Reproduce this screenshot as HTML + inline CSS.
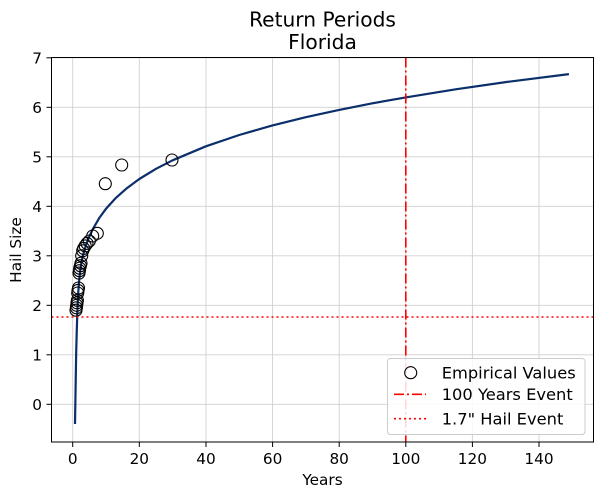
<!DOCTYPE html>
<html><head><meta charset="utf-8"><style>body{margin:0;background:#fff}svg{display:block}text{font-family:"DejaVu Sans","Liberation Sans",sans-serif;fill:#000}</style></head><body>
<svg width="603" height="497" viewBox="0 0 603 497">
<g stroke="#d0d0d0" stroke-width="0.9">
<line x1="72.7" y1="57.5" x2="72.7" y2="442"/><line x1="139.3" y1="57.5" x2="139.3" y2="442"/><line x1="206" y1="57.5" x2="206" y2="442"/><line x1="272.6" y1="57.5" x2="272.6" y2="442"/><line x1="339.2" y1="57.5" x2="339.2" y2="442"/><line x1="405.8" y1="57.5" x2="405.8" y2="442"/><line x1="472.4" y1="57.5" x2="472.4" y2="442"/><line x1="539" y1="57.5" x2="539" y2="442"/>
<line x1="51.5" y1="404.3" x2="593.5" y2="404.3"/><line x1="51.5" y1="354.8" x2="593.5" y2="354.8"/><line x1="51.5" y1="305.3" x2="593.5" y2="305.3"/><line x1="51.5" y1="255.8" x2="593.5" y2="255.8"/><line x1="51.5" y1="206.3" x2="593.5" y2="206.3"/><line x1="51.5" y1="156.8" x2="593.5" y2="156.8"/><line x1="51.5" y1="107.3" x2="593.5" y2="107.3"/><line x1="51.5" y1="57.8" x2="593.5" y2="57.8"/>
</g>
<polyline fill="none" stroke="#0b2f6b" stroke-width="2.2" stroke-linejoin="round" points="75,424 75.4,400 75.8,375 76.2,352 76.7,333 77.3,313 78,296 79,282 80.3,270 81.5,262 82.7,256.3 86,245 89.35,236.5 92.7,229.3 99.3,217.9 106,208.8 116,197.8 126,188.9 139.3,179 156,168.8 172.6,160.3 205.9,146.3 239.2,135 272.5,125.4 305.8,117.2 339.1,109.9 372.4,103.3 405.7,97.4 455.7,89.3 505.6,82.1 568.9,74.1"/>
<g fill="none" stroke="#000" stroke-width="1.1">
<circle cx="76" cy="310.2" r="6"/><circle cx="76.4" cy="307.8" r="6"/><circle cx="76.7" cy="305.3" r="6"/><circle cx="77" cy="302.8" r="6"/><circle cx="77.4" cy="300.4" r="6"/><circle cx="77.7" cy="293" r="6"/><circle cx="78" cy="290.4" r="6"/><circle cx="78.5" cy="288" r="6"/><circle cx="79" cy="273.1" r="6"/><circle cx="79.4" cy="270.7" r="6"/><circle cx="79.7" cy="268.2" r="6"/><circle cx="80.4" cy="265.7" r="6"/><circle cx="81" cy="263.2" r="6"/><circle cx="81.7" cy="255.8" r="6"/><circle cx="82.7" cy="250.8" r="6"/><circle cx="83.7" cy="248.4" r="6"/><circle cx="85.2" cy="245.9" r="6"/><circle cx="87" cy="243.4" r="6"/><circle cx="89.3" cy="241" r="6"/><circle cx="92.7" cy="236" r="6"/><circle cx="97.3" cy="233.3" r="6"/><circle cx="105.3" cy="183.7" r="6"/><circle cx="121.7" cy="165" r="6"/><circle cx="172" cy="160" r="6"/>
</g>
<line x1="405.8" y1="57.5" x2="405.8" y2="442" stroke="#f00" stroke-width="1.6" stroke-dasharray="10,3,2,3"/>
<line x1="51.5" y1="317" x2="593.5" y2="317" stroke="#f00" stroke-width="1.6" stroke-dasharray="2,3"/>
<rect x="51.5" y="57.5" width="542" height="384.5" fill="none" stroke="#000" stroke-width="1"/>
<g stroke="#000" stroke-width="1">
<line x1="72.7" y1="442" x2="72.7" y2="447"/><line x1="139.3" y1="442" x2="139.3" y2="447"/><line x1="206" y1="442" x2="206" y2="447"/><line x1="272.6" y1="442" x2="272.6" y2="447"/><line x1="339.2" y1="442" x2="339.2" y2="447"/><line x1="405.8" y1="442" x2="405.8" y2="447"/><line x1="472.4" y1="442" x2="472.4" y2="447"/><line x1="539" y1="442" x2="539" y2="447"/>
<line x1="46.5" y1="404.3" x2="51.5" y2="404.3"/><line x1="46.5" y1="354.8" x2="51.5" y2="354.8"/><line x1="46.5" y1="305.3" x2="51.5" y2="305.3"/><line x1="46.5" y1="255.8" x2="51.5" y2="255.8"/><line x1="46.5" y1="206.3" x2="51.5" y2="206.3"/><line x1="46.5" y1="156.8" x2="51.5" y2="156.8"/><line x1="46.5" y1="107.3" x2="51.5" y2="107.3"/><line x1="46.5" y1="57.8" x2="51.5" y2="57.8"/>
</g>
<g font-size="15.3" text-anchor="middle">
<text x="72.7" y="464">0</text><text x="139.3" y="464">20</text><text x="206" y="464">40</text><text x="272.6" y="464">60</text><text x="339.2" y="464">80</text><text x="405.8" y="464">100</text><text x="472.4" y="464">120</text><text x="539" y="464">140</text>
</g>
<g font-size="15.3" text-anchor="end">
<text x="42" y="409.8">0</text><text x="42" y="360.3">1</text><text x="42" y="310.8">2</text><text x="42" y="261.3">3</text><text x="42" y="211.8">4</text><text x="42" y="162.3">5</text><text x="42" y="112.8">6</text><text x="42" y="63.3">7</text>
</g>
<text x="322.5" y="485" font-size="15.3" text-anchor="middle">Years</text>
<text transform="translate(21,250) rotate(-90)" font-size="15.3" text-anchor="middle">Hail Size</text>
<text x="322.5" y="26.5" font-size="20.2" text-anchor="middle">Return Periods</text>
<text x="322.5" y="49" font-size="20.2" text-anchor="middle">Florida</text>
<rect x="387.5" y="358.5" width="197.5" height="76" rx="3" fill="#fff" fill-opacity="0.85" stroke="#ccc" stroke-width="1"/>
<circle cx="410.7" cy="372.7" r="6" fill="none" stroke="#000" stroke-width="1.1"/>
<line x1="394" y1="394.3" x2="426" y2="394.3" stroke="#f00" stroke-width="1.6" stroke-dasharray="10,3,2,3"/>
<line x1="394" y1="418.7" x2="426" y2="418.7" stroke="#f00" stroke-width="1.6" stroke-dasharray="2,3"/>
<g font-size="16.3">
<text x="441.7" y="378.5">Empirical Values</text><text x="441.7" y="400">100 Years Event</text><text x="441.7" y="424.5">1.7" Hail Event</text>
</g>
</svg>
</body></html>
